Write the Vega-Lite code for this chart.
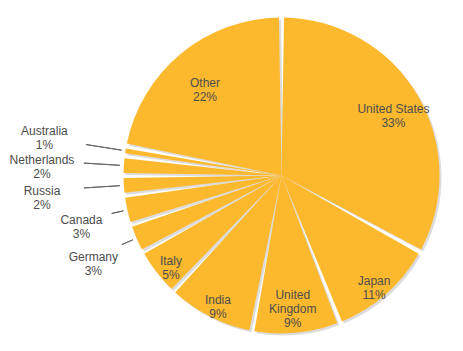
{
  "$schema": "https://vega.github.io/schema/vega-lite/v6.json",
  "width": 363,
  "height": 351,
  "autosize": {"type": "none"},
  "padding": {"left": 100, "top": 0, "right": 0, "bottom": 0},
  "background": "white",
  "config": {"view": {"stroke": null}},
  "data": {
    "values": [
      {"i": 1, "country": "United States", "share": 33, "label": "United States\n33%"},
      {"i": 2, "country": "Japan", "share": 11, "label": "Japan\n11%"},
      {"i": 3, "country": "United Kingdom", "share": 9, "label": "United\nKingdom\n9%"},
      {"i": 4, "country": "India", "share": 9, "label": "India\n9%"},
      {"i": 5, "country": "Italy", "share": 5, "label": "Italy\n5%"},
      {"i": 6, "country": "Germany", "share": 3, "label": "Germany\n3%"},
      {"i": 7, "country": "Canada", "share": 3, "label": "Canada\n3%"},
      {"i": 8, "country": "Russia", "share": 2, "label": "Russia\n2%"},
      {"i": 9, "country": "Netherlands", "share": 2, "label": "Netherlands\n2%"},
      {"i": 10, "country": "Australia", "share": 1, "label": "Australia\n1%"},
      {"i": 11, "country": "Other", "share": 22, "label": "Other\n22%"}
    ]
  },
  "encoding": {
    "theta": {"field": "share", "type": "quantitative", "stack": true},
    "order": {"field": "i", "type": "quantitative"}
  },
  "layer": [
    {
      "mark": {"type": "arc", "outerRadius": 158, "padAngle": 0.032, "fill": "#9a9a9a", "opacity": 0.35, "xOffset": 2, "yOffset": 2}
    },
    {
      "mark": {"type": "arc", "outerRadius": 158, "padAngle": 0.032, "fill": "#FDB92E"}
    },
    {
      "mark": {
        "type": "arc",
        "outerRadius": {"expr": "datum.share <= 2 ? 198 : 174"},
        "innerRadius": 162,
        "padAngle": 3,
        "fillOpacity": 0,
        "stroke": "#666666",
        "strokeWidth": 1
      },
      "encoding": {"strokeOpacity": {"condition": {"test": "datum.share <= 3", "value": 1}, "value": 0}}
    },
    {
      "mark": {
        "type": "text",
        "radius": {"expr": "datum.share > 3 ? (indexof(['Other', 'United Kingdom'], datum.country) >= 0 ? 120 : (datum.country == 'United States' ? 130 : 140)) : (datum.share == 3 ? 205 : 240)"},
        "baseline": {"expr": "datum.share == 1 ? 'bottom' : 'middle'"},
        "font": "Liberation Sans",
        "fontSize": 12,
        "lineHeight": 14,
        "fill": "#4d4d4d",
        "lineBreak": "\n"
      },
      "encoding": {"text": {"field": "label"}}
    }
  ]
}
